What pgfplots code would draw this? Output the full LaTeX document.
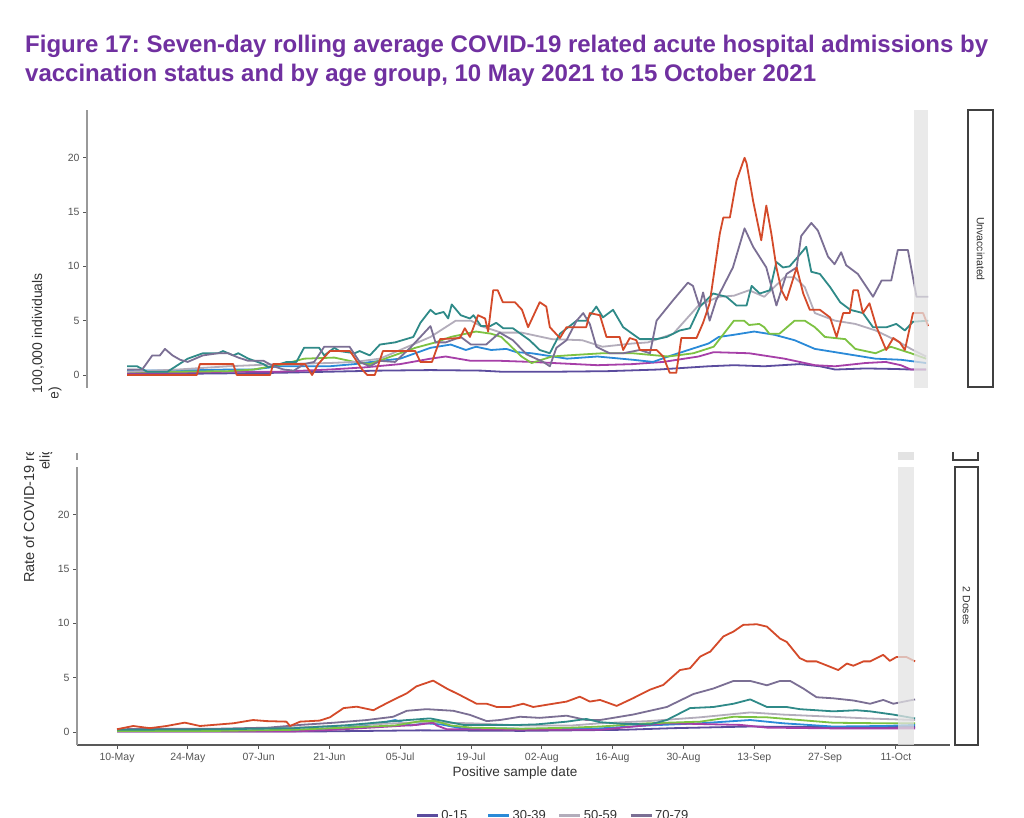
\documentclass[border=0pt]{standalone}
\usepackage{fontspec}
\setmainfont{Liberation Sans}
\usepackage{pgfplots}
\pgfplotsset{compat=1.18}
\definecolor{titlepurple}{HTML}{7030A0}
\definecolor{cA}{HTML}{5B4C9E}% 0-15
\definecolor{cB}{HTML}{A63FA8}% 16-29
\definecolor{cC}{HTML}{2A8AD8}% 30-39
\definecolor{cD}{HTML}{7DC242}% 40-49
\definecolor{cE}{HTML}{B3ADBB}% 50-59
\definecolor{cF}{HTML}{2F8A88}% 60-69
\definecolor{cG}{HTML}{7B6F94}% 70-79
\definecolor{cH}{HTML}{D44A2A}% 80+
\definecolor{tickgrey}{HTML}{555555}
\definecolor{labgrey}{HTML}{333333}
\definecolor{bandgrey}{HTML}{E3E3E3}
\pgfplotsset{
  panel/.style={
    scale only axis, width=873pt, height=278pt,
    xmin=-7.91, xmax=164.7, ymin=-1.2, ymax=24.4,
    ytick={0,5,10,15,20},
    tick align=outside, major tick length=4pt,
    tick style={color=tickgrey, line width=0.8pt},
    /pgf/number format/assume math mode=true,
    ticklabel style={font=\fontsize{10.5}{12}\selectfont, text=tickgrey},
    axis y line*=left,
    y axis line style={color=black!40, line width=2pt},
    no markers,
    every axis plot/.append style={line width=1.8pt, line join=round},
    clip=false,
  }
}
\begin{document}
\frenchspacing
\begin{tikzpicture}[x=1pt,y=1pt]
\useasboundingbox (0pt,0pt) rectangle (1024pt,817pt);
\fill[white] (0pt,0pt) rectangle (1024pt,817pt);

% Title
\node[anchor=base west, inner sep=0, text=titlepurple, font=\fontsize{24}{28}\selectfont\bfseries] at (25pt,764pt) {Figure 17: Seven-day rolling average COVID-19 related acute hospital admissions by};
\node[anchor=base west, inner sep=0, text=titlepurple, font=\fontsize{24}{28}\selectfont\bfseries] at (25pt,735pt) {vaccination status and by age group, 10 May 2021 to 15 October 2021};

% ---------------- Top panel: Unvaccinated ----------------
\begin{axis}[panel, at={(87pt,429pt)}, anchor=south west, axis x line=none, xtick=\empty]
\addplot[cA] coordinates {(0,0.1)(10,0.1)(20,0.15)(30,0.2)(40,0.3)(50,0.4)(60,0.45)(70,0.4)(74,0.3)(85,0.3)(95,0.35)(105,0.5)(115,0.8)(120,0.9)(126,0.8)(133,1.0)(137,0.8)(140,0.5)(146,0.6)(152,0.55)(155,0.5)(158,0.5)};
\addplot[cB] coordinates {(0,0.2)(10,0.2)(20,0.3)(30,0.3)(40,0.5)(47,0.7)(54,1.0)(60,1.5)(63,1.7)(68,1.3)(74,1.3)(80,1.2)(93,0.9)(100,1.0)(106,1.2)(113,1.7)(116,2.1)(123,2.0)(130,1.5)(136,0.9)(140,0.8)(146,1.1)(150,1.2)(153,0.9)(155,0.5)(158,0.5)};
\addplot[cC] coordinates {(0,0.4)(10,0.4)(20,0.5)(25,0.5)(30,0.8)(40,0.8)(45,1.0)(50,1.3)(54,1.5)(57,2.0)(60,2.5)(64,2.8)(67,2.3)(69,2.6)(72,2.3)(75,2.4)(77,2.1)(80,2.0)(87,1.5)(93,1.7)(100,1.4)(104,1.2)(107,1.7)(111,2.3)(115,2.9)(117,3.5)(120,3.7)(124,4.0)(128,3.7)(132,3.2)(136,2.4)(140,2.1)(144,1.8)(148,1.5)(153,1.4)(158,1.1)};
\addplot[cD] coordinates {(0,0.3)(10,0.3)(20,0.35)(25,0.5)(31,1.0)(35,1.5)(41,1.6)(45,1.2)(48,1.0)(51,1.5)(54,2.0)(57,2.5)(61,3.0)(64,3.5)(69,4.0)(72,3.8)(74,3.5)(76,2.6)(78,1.7)(80,1.1)(84,1.7)(87,1.8)(94,2.0)(100,2.0)(107,1.7)(112,2.0)(116,2.6)(118,3.8)(120,5.0)(122,5.0)(123,4.6)(125,4.7)(126,4.4)(127,3.8)(129,3.8)(132,5.0)(134,5.0)(136,4.4)(138,3.5)(142,3.3)(144,2.4)(148,2.0)(151,2.6)(153,2.3)(155,2.0)(158,1.5)};
\addplot[cE] coordinates {(0,0.3)(10,0.5)(20,0.8)(30,1.0)(40,1.1)(45,1.2)(50,1.5)(55,2.5)(60,3.5)(65,5.0)(68,5.0)(70,4.5)(72,4.2)(74,3.9)(78,3.9)(84,3.3)(90,3.2)(94,2.6)(100,2.9)(103,3.0)(108,3.8)(113,6.4)(117,7.2)(120,7.3)(123,7.8)(126,7.2)(130,9.0)(132,9.0)(134,8.1)(136,5.7)(140,5.0)(144,4.7)(148,4.1)(152,3.2)(155,2.4)(158,1.7)};
\addplot[cF] coordinates {(0,0.8)(2,0.8)(4,0.3)(8,0.3)(12,1.5)(15,2.0)(18,2.0)(19,2.2)(21,1.8)(22,2.0)(24,1.5)(27,1.0)(28,0.7)(31.6,1.2)(33.5,1.2)(35,2.5)(38,2.5)(39,1.8)(41,2.5)(42,2.2)(45,2.0)(46,2.2)(48,1.8)(50,2.8)(53,3.0)(56.6,3.5)(58,4.8)(60,6.0)(61,5.6)(62.6,5.8)(63.5,5.2)(64.2,6.5)(66,5.5)(67.8,5.2)(68.5,5.5)(70,4.5)(71.8,4.5)(73,4.8)(74.4,4.3)(76.3,4.3)(79.6,3.2)(81.6,2.3)(83.6,2.0)(85.6,3.8)(88.9,5.0)(90.8,5.0)(92.8,6.3)(94.1,5.3)(96.1,6.0)(98.1,4.4)(101.4,3.3)(104.7,3.3)(106.7,3.5)(109.3,4.1)(111.3,4.3)(113.3,6.3)(115.9,7.5)(118.5,7.2)(120.5,6.4)(122.5,6.4)(123.5,8.2)(125.1,7.5)(127.1,7.8)(128.4,10.4)(129.7,9.9)(131,10.0)(132.7,10.9)(134.3,11.8)(135.3,9.5)(137,9.3)(139,8.1)(141,6.7)(143,6.0)(145.5,5.7)(147.5,4.4)(150.2,4.4)(152.1,4.7)(153.8,4.1)(155.4,4.9)(158.4,5.0)};
\addplot[cG] coordinates {(0,0.5)(3,0.5)(5,1.8)(6.5,1.8)(7.5,2.4)(9,1.8)(10.5,1.4)(12,1.2)(15,1.8)(18,2.0)(20,2.0)(22,1.6)(24,1.3)(27,1.3)(29,0.8)(31,0.5)(33,0.4)(35,1.0)(37,1.2)(39,2.6)(44,2.6)(46,1.2)(48,0.8)(50,1.3)(53,1.2)(56,2.5)(58,3.5)(60,4.5)(61,3.0)(63,3.0)(66,3.5)(68,2.8)(71,2.8)(73.7,3.9)(76.3,3.2)(79,1.9)(82.3,1.2)(83.6,0.8)(84.9,2.5)(86.9,3.2)(88.9,5.0)(90.2,5.7)(91.5,4.7)(92.8,2.6)(95.4,2.0)(98.1,2.0)(101.4,2.3)(103.4,2.0)(104.7,5.0)(108,6.9)(110.9,8.5)(111.9,8.2)(113.2,6.3)(113.9,7.6)(115.2,5.0)(116.5,6.9)(119.8,9.9)(122.1,13.5)(123.8,11.8)(126.4,9.9)(128.4,6.4)(130.4,9.3)(132.4,9.9)(133.3,12.8)(135.3,14.0)(136.6,13.3)(138.6,10.9)(139.9,10.2)(141.2,11.3)(142.2,10.1)(144.5,9.3)(147.5,7.2)(149.2,8.7)(151.1,8.7)(152.4,11.5)(154.4,11.5)(156.1,7.2)(158.4,7.2)};
\addplot[cH] coordinates {(0,0)(13.8,0)(14.4,1.0)(21,1.0)(21.7,0)(28.3,0)(28.9,1.0)(35.2,1.0)(36.6,0)(37.8,1.0)(40.1,2.2)(44.1,2.2)(46.5,0.5)(47.5,0)(49,0)(50.6,2.2)(57,2.2)(58,1.2)(60.3,1.2)(61.9,3.3)(65.8,3.4)(66.8,4.3)(67.8,3.5)(69.4,5.5)(70.8,5.2)(71.4,4.0)(72.4,7.8)(73.3,7.8)(74.3,6.7)(76.7,6.7)(78.1,6.0)(79.3,4.4)(81.6,6.7)(82.9,6.3)(83.6,4.4)(85.6,3.4)(86.9,4.4)(90.8,4.4)(91.5,5.7)(93.5,5.5)(94.8,3.5)(97.4,3.5)(98.1,2.3)(99.4,3.4)(100.7,3.2)(101.4,2.3)(104.7,2.3)(106,1.7)(107.3,0.2)(108.6,0.2)(109.6,3.4)(112.6,3.4)(113.9,4.8)(115.2,6.6)(117.2,13)(117.9,14.5)(119.2,14.5)(120.5,17.9)(122.1,20)(122.5,19.5)(123.8,16)(125.4,12.4)(126.4,15.6)(127.4,13)(128.4,9.9)(129.4,7.8)(130.4,6.9)(132.4,9.9)(133.7,7.5)(135,6)(137,6)(139,5.3)(140.3,3.5)(141.6,5.7)(142.9,5.7)(143.6,7.8)(144.5,7.8)(145.5,5.7)(146.8,6.6)(148.2,4.4)(150.1,2.3)(151.5,3.4)(152.8,3.0)(153.8,2.3)(155.4,5.7)(157.4,5.7)(158.4,4.5)};
\fill[bandgrey, opacity=0.75] (axis cs:155.6,-1.2) rectangle (axis cs:158.4,24.4);
\end{axis}

% ---------------- Bottom panel: 2 Doses ----------------
\begin{axis}[panel, at={(77pt,72pt)}, anchor=south west,
  axis x line*=bottom,
  x axis line style={color=black!65, line width=2pt},
  xtick={0,14,28,42,56,70,84,98,112,126,140,154},
  xticklabels={10-May,24-May,07-Jun,21-Jun,05-Jul,19-Jul,02-Aug,16-Aug,30-Aug,13-Sep,27-Sep,11-Oct},
  xticklabel style={anchor=north, text height=8pt, text depth=2pt},
  legend columns=4,
  legend style={at={(0.384,-0.2194)}, anchor=north west, draw=none, fill=none,
    font=\fontsize{13}{15}\selectfont, text=labgrey,
    /tikz/every even column/.append style={column sep=10pt}},
  legend image code/.code={\draw[#1, line width=3pt] (0pt,0pt) -- (21pt,0pt);},
  legend cell align=left,
]
\addplot[cA] coordinates {(0,0.05)(40,0.05)(60,0.15)(80,0.1)(100,0.2)(110,0.35)(125,0.5)(140,0.45)(150,0.45)(157.8,0.45)};
\addlegendentry{0-15}
\addplot[cC] coordinates {(0,0.1)(20,0.1)(35,0.15)(45,0.4)(52,0.8)(55,1.1)(58,0.6)(61,0.8)(64,0.7)(68,0.35)(80,0.3)(90,0.3)(95.5,0.33)(105,0.6)(115.3,0.8)(125.2,1.1)(131.7,0.8)(141.6,0.5)(151.5,0.55)(157.8,0.65)};
\addlegendentry{30-39}
\addplot[cE] coordinates {(0,0.15)(20,0.25)(35,0.4)(50,0.7)(60,0.9)(70,0.8)(80,0.6)(90,0.6)(95.5,0.8)(105,1.0)(115.3,1.35)(125.2,1.8)(131.7,1.6)(141.6,1.4)(148.2,1.25)(157.8,1.1)};
\addlegendentry{50-59}
\addplot[cG] coordinates {(0,0.25)(10,0.3)(20,0.3)(30,0.4)(36.2,0.65)(42.8,0.85)(49.4,1.1)(54.6,1.4)(57.3,1.95)(61.2,2.1)(66.5,1.95)(69.8,1.57)(73.1,1.0)(75.7,1.1)(79.7,1.4)(83.6,1.3)(88.9,1.5)(92.8,1.1)(95.5,1.1)(102,1.6)(108.7,2.3)(114,3.5)(117.9,4.0)(121.9,4.7)(125.2,4.7)(128.5,4.3)(131.1,4.7)(133.1,4.7)(135.7,4.0)(138.3,3.2)(141.6,3.1)(145.6,2.9)(148.9,2.6)(151.5,2.95)(153.5,2.6)(157.8,3.0)};
\addlegendentry{70-79}
\addplot[cB] coordinates {(0,0.05)(20,0.05)(35,0.05)(42.8,0.2)(59.2,0.65)(62.5,0.85)(63.2,0.6)(65.2,0.25)(70,0.25)(80,0.2)(95.5,0.2)(108.7,0.8)(123.3,0.65)(128.5,0.4)(141.6,0.33)(157.8,0.33)};
\addlegendentry{16-29}
\addplot[cD] coordinates {(0,0.1)(20,0.1)(35,0.2)(45,0.4)(55,0.6)(60,1.0)(63,1.0)(66,0.6)(70,0.4)(80,0.3)(90,0.4)(95.5,0.5)(105,0.8)(115.3,0.95)(121.9,1.4)(128.5,1.35)(135,1.1)(141.6,0.85)(151.5,0.8)(157.8,0.8)};
\addlegendentry{40-49}
\addplot[cF] coordinates {(0,0.2)(20,0.25)(35,0.35)(45,0.6)(54.6,1.0)(61.9,1.25)(65.2,0.95)(68.5,0.65)(75.1,0.65)(79.7,0.65)(83,0.7)(88.9,0.95)(92.8,1.2)(95.5,0.9)(100,0.75)(105.4,0.7)(108.7,1.1)(113.3,2.2)(117.9,2.3)(121.9,2.6)(125.2,3.0)(128.5,2.3)(132.4,2.3)(135,2.1)(141.6,1.9)(146.2,2.0)(148.9,1.9)(153.5,1.6)(157.8,1.25)};
\addlegendentry{60-69}
\addplot[cH] coordinates {(0,0.25)(3.2,0.55)(6.5,0.35)(9.8,0.55)(13.4,0.86)(16.4,0.55)(23,0.8)(26.9,1.1)(29.6,1.0)(33.5,0.95)(34.2,0.55)(36.2,0.95)(40.1,1.05)(42.1,1.35)(44.8,2.2)(47.4,2.33)(50.7,2.0)(52,2.33)(54.6,2.95)(57.3,3.56)(59.2,4.2)(62.5,4.73)(65.2,4.0)(67.8,3.4)(71.1,2.6)(73.1,2.6)(75.1,2.3)(77.7,2.3)(80.3,2.6)(82.3,2.3)(84.9,2.5)(88.9,2.8)(91.5,3.25)(93.5,2.8)(95.5,2.95)(98.8,2.4)(102,3.1)(105.4,3.9)(108,4.33)(111.3,5.7)(113.3,5.87)(115.3,6.94)(117.3,7.4)(119.9,8.8)(121.9,9.25)(123.8,9.86)(126.5,9.92)(128.5,9.7)(131.1,8.6)(132.4,8.3)(135,6.8)(136.4,6.5)(138.3,6.5)(141,6.0)(142.6,5.7)(144.3,6.3)(145.6,6.1)(147.6,6.5)(148.9,6.5)(151.5,7.1)(152.8,6.55)(154.1,6.9)(156.1,6.9)(157.8,6.5)};
\addlegendentry{80+}
\fill[bandgrey, opacity=0.75] (axis cs:154.4,-1.2) rectangle (axis cs:157.6,24.4);
\end{axis}

% small pieces at the top of the lower image
\draw[black!40, line width=2pt] (77pt,357pt) -- (77pt,364pt);
\fill[bandgrey] (898pt,357pt) rectangle (914pt,365pt);
\draw[black!75, line width=1.2pt] (953pt,365pt) -- (953pt,357pt) -- (978pt,357pt) -- (978pt,365pt);

% strips
\draw[black!75, line width=1.2pt] (968pt,430pt) rectangle (993pt,707pt);
\draw[black!75, line width=2pt] (968pt,430pt) -- (993pt,430pt) -- (993pt,707pt);
\node[rotate=-90, font=\fontsize{10.5}{12}\selectfont, text=labgrey] at (980.5pt,568pt) {Unvaccinated};
\draw[black!75, line width=1.2pt] (955pt,72pt) rectangle (978pt,350pt);
\draw[black!75, line width=2pt] (955pt,72pt) -- (978pt,72pt) -- (978pt,350pt);
\node[rotate=-90, font=\fontsize{10.5}{12}\selectfont, text=labgrey] at (966.5pt,211pt) {2 Doses};

% axis titles
\node[font=\fontsize{13.5}{15}\selectfont, text=labgrey] at (515pt,44pt) {Positive sample date};
\begin{scope}
\clip (0pt,419pt) rectangle (80pt,817pt);
\node[rotate=90, anchor=east, inner sep=0, font=\fontsize{14}{15}\selectfont, text=labgrey] at (38pt,544pt) {100,000 individuals};
\node[rotate=90, anchor=east, inner sep=0, font=\fontsize{14}{15}\selectfont, text=labgrey] at (55pt,430pt) {age)};
\end{scope}
\begin{scope}
\clip (0pt,0pt) rectangle (70pt,364pt);
\node[rotate=90, anchor=west, inner sep=0, font=\fontsize{14.5}{15}\selectfont, text=labgrey] at (29pt,234pt) {Rate of COVID-19 related};
\node[rotate=90, anchor=west, inner sep=0, font=\fontsize{14}{15}\selectfont, text=labgrey] at (46pt,347pt) {eligible};
\end{scope}
\end{tikzpicture}
\end{document}
